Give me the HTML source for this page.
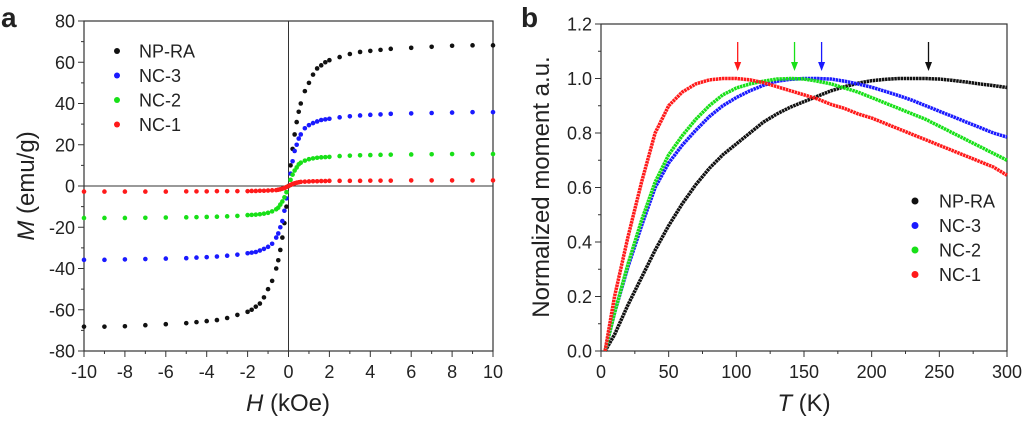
<!DOCTYPE html>
<html><head><meta charset="utf-8"><style>
body{margin:0;background:#fff;width:1024px;height:418px;overflow:hidden}
svg text{font-family:"Liberation Sans",sans-serif;fill:#222}
</style></head><body>
<svg id="fig" width="1024" height="418"></svg>
<script>
// ---- panel a data ----
const hVals=[-10,-9,-8,-7,-6,-5,-4.5,-4,-3.5,-3,-2.5,-2,-1.8,-1.6,-1.4,-1.2,-1,-0.8,-0.6,-0.5,-0.4,-0.3,-0.2,-0.1,0,0.1,0.2,0.3,0.4,0.5,0.6,0.8,1,1.2,1.4,1.6,1.8,2,2.5,3,3.5,4,4.5,5,6,7,8,9,10];
const mNPRA=[-68.2,-68.2,-68,-67.5,-67,-66.5,-66,-65.5,-65,-64,-62.5,-61,-60,-58.5,-57,-54,-50,-46,-40,-36,-31,-25,-18,-10,0,10,18,25,31,36,40,46,50,54,57,58.5,60,61,62.5,64,65,65.5,66,66.5,67,67.5,68,68.2,68.2];
const mNC3=[-35.8,-35.8,-35.6,-35.4,-35.2,-35,-34.7,-34.5,-34.2,-33.8,-33.3,-32.6,-32.3,-32,-31.3,-30.5,-29.5,-28,-25,-23,-20,-17,-12,-6,0,6,12,17,20,23,25,28,29.5,30.5,31.3,32,32.3,32.6,33.3,33.8,34.2,34.5,34.7,35,35.2,35.4,35.6,35.8,35.8];
const mNC2=[-15.5,-15.5,-15.5,-15.4,-15.3,-15.2,-15.1,-15,-14.9,-14.7,-14.5,-14.1,-14,-13.9,-13.7,-13.4,-13,-12.3,-11.3,-10.5,-9,-7.5,-5.5,-3,0,3,5.5,7.5,9,10.5,11.3,12.3,13,13.4,13.7,13.9,14,14.1,14.5,14.7,14.9,15,15.1,15.2,15.3,15.4,15.5,15.5,15.5];
const mNC1=[-2.7,-2.7,-2.7,-2.7,-2.7,-2.6,-2.6,-2.6,-2.5,-2.5,-2.5,-2.5,-2.4,-2.4,-2.3,-2.3,-2.2,-2.1,-2,-1.8,-1.6,-1.3,-1,-0.5,0,0.5,1,1.3,1.6,1.8,2,2.1,2.2,2.3,2.3,2.4,2.4,2.5,2.5,2.5,2.5,2.6,2.6,2.6,2.7,2.7,2.7,2.7,2.7];
const aXTicks=[-10,-8,-6,-4,-2,0,2,4,6,8,10];
const aYTicks=[-80,-60,-40,-20,0,20,40,60,80];
const seriesNames=["NP-RA","NC-3","NC-2","NC-1"];
const seriesColors=["#111","#1a1aff","#18e018","#ff1a1a"];
// ---- panel b data ----
const tVals=[0,10,20,30,40,50,60,70,80,90,100,110,120,130,140,150,160,170,180,190,200,210,220,230,240,250,260,270,280,290,300];
const bNPRA=[0,0.06,0.17,0.27,0.37,0.46,0.54,0.61,0.67,0.72,0.76,0.8,0.84,0.87,0.895,0.915,0.935,0.955,0.97,0.983,0.992,0.997,1.0,1.0,1.0,0.998,0.993,0.987,0.98,0.974,0.967];
const bNC3=[0,0.14,0.31,0.46,0.6,0.69,0.755,0.81,0.86,0.9,0.93,0.955,0.975,0.99,0.997,1.0,1.0,0.998,0.99,0.98,0.968,0.953,0.937,0.92,0.9,0.88,0.86,0.84,0.82,0.8,0.785];
const bNC2=[0,0.14,0.32,0.48,0.62,0.72,0.79,0.85,0.9,0.94,0.965,0.98,0.99,0.998,1.0,0.998,0.99,0.98,0.965,0.95,0.93,0.91,0.89,0.87,0.85,0.825,0.8,0.775,0.75,0.725,0.7];
const bNC1=[0,0.2,0.42,0.62,0.8,0.9,0.95,0.98,0.995,1.0,1.0,0.995,0.985,0.97,0.955,0.94,0.925,0.905,0.89,0.87,0.855,0.835,0.815,0.795,0.775,0.755,0.735,0.715,0.695,0.675,0.645];
const peakT=[242,163,143,101];
const bXTicks=[0,50,100,150,200,250,300];
const bYTicks=[0,0.2,0.4,0.6,0.8,1.0,1.2];

const NS="http://www.w3.org/2000/svg";
const svg=document.getElementById('fig');
function mk(tag,attrs,parent){const e=document.createElementNS(NS,tag);for(const k in attrs)e.setAttribute(k,attrs[k]);(parent||svg).appendChild(e);return e;}

const ax=v=>84+(v+10)/20*409, ay=v=>186-v/80*165;
const bx=v=>601+v/300*406, by=v=>351-v/1.2*327;
const TF=18, AF=24, LF=18;

// ---------- panel a ----------
const gA=mk('g',{});


let t=mk('text',{x:1,y:27,'font-size':28,'font-weight':'bold'},gA);t.textContent='a';

let f=mk('rect',{x:84,y:21,width:409,height:330,fill:'none',stroke:'#333','stroke-width':1.2},gA);

let z=mk('line',{x1:ax(0),x2:ax(0),y1:21,y2:351,stroke:'#333','stroke-width':1},gA);

z=mk('line',{x1:84,x2:493,y1:ay(0),y2:ay(0),stroke:'#333','stroke-width':1},gA);

for(let v=-10;v<=10;v++){mk('line',{x1:ax(v),x2:ax(v),y1:351,y2:351+(v%2===0?6:3),stroke:'#333'},gA);}
for(let v=-80;v<=80;v+=10){mk('line',{x1:84,x2:84-(v%20===0?6:3),y1:ay(v),y2:ay(v),stroke:'#333'},gA);}
aXTicks.forEach(v=>{const e=mk('text',{x:ax(v),y:378,'font-size':TF,'text-anchor':'middle'},gA);e.textContent=v;
});
aYTicks.forEach(v=>{const e=mk('text',{x:75,y:ay(v)+6.5,'font-size':TF,'text-anchor':'end'},gA);e.textContent=v;
});
t=mk('text',{x:288,y:411,'font-size':AF,'text-anchor':'middle'},gA);t.innerHTML='<tspan font-style="italic">H</tspan> (kOe)';

t=mk('text',{x:0,y:0,'font-size':AF,'text-anchor':'middle',transform:'translate(34,186) rotate(-90)'},gA);t.innerHTML='<tspan font-style="italic">M</tspan> (emu/g)';

[mNPRA,mNC3,mNC2,mNC1].forEach((arr,si)=>{
  const g=mk('g',{fill:seriesColors[si]},gA);
  
  
  arr.forEach((m,i)=>{mk('circle',{cx:ax(hVals[i]),cy:ay(m),r:2.3},g);});
});
seriesNames.forEach((n,i)=>{
  const y=51+i*24.5;
  const g=mk('g',{},gA);
  
  
  mk('circle',{cx:117,cy:y,r:3,fill:seriesColors[i]},g);
  const e=mk('text',{x:139,y:y+6.5,'font-size':LF},g);e.textContent=n;
});

// ---------- panel b ----------
const gB=mk('g',{});


t=mk('text',{x:521,y:27,'font-size':28,'font-weight':'bold'},gB);t.textContent='b';

f=mk('rect',{x:601,y:24,width:406,height:327,fill:'none',stroke:'#333','stroke-width':1.2},gB);

for(let v=0;v<=300;v+=25){mk('line',{x1:bx(v),x2:bx(v),y1:351,y2:351+(v%50===0?6:3),stroke:'#333'},gB);}
for(let k=0;k<=12;k++){const v=k/10;mk('line',{x1:601,x2:601-(k%2===0?6:3),y1:by(v),y2:by(v),stroke:'#333'},gB);}
bXTicks.forEach(v=>{const e=mk('text',{x:bx(v),y:378,'font-size':TF,'text-anchor':'middle'},gB);e.textContent=v;
});
bYTicks.forEach(v=>{const e=mk('text',{x:592,y:by(v)+6.5,'font-size':TF,'text-anchor':'end'},gB);e.textContent=v.toFixed(1);
});
t=mk('text',{x:804,y:411,'font-size':AF,'text-anchor':'middle'},gB);t.innerHTML='<tspan font-style="italic">T</tspan> (K)';

t=mk('text',{x:0,y:0,'font-size':AF,'text-anchor':'middle',transform:'translate(549,187) rotate(-90)'},gB);t.textContent='Normalized moment a.u.';

[bNPRA,bNC3,bNC2,bNC1].forEach((arr,si)=>{
  const pts=arr.map((v,i)=>bx(Math.max(tVals[i],3))+','+by(v));
  const p=mk('polyline',{points:pts.join(' '),fill:'none',stroke:seriesColors[si],'stroke-width':3.5,'stroke-linejoin':'round','stroke-dasharray':'2.5 0.6'},gB);
  
  
});
peakT.forEach((v,i)=>{
  const g=mk('g',{stroke:seriesColors[i],fill:seriesColors[i]},gB);
  
  
  const x=bx(v);
  mk('line',{x1:x,x2:x,y1:42,y2:64,'stroke-width':1.3},g);
  mk('polygon',{points:`${x-3.5},62 ${x+3.5},62 ${x},71`,stroke:'none'},g);
});
seriesNames.forEach((n,i)=>{
  const y=201+i*24.5;
  const g=mk('g',{},gB);
  
  
  mk('circle',{cx:915,cy:y,r:3.5,fill:seriesColors[i]},g);
  const e=mk('text',{x:939,y:y+6.5,'font-size':LF},g);e.textContent=n;
});
</script>
</body></html>
